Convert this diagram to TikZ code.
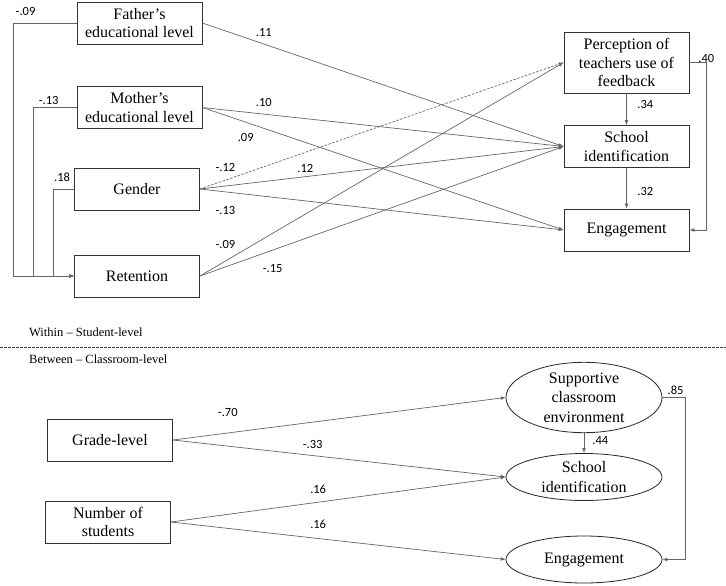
\documentclass[tikz,border=0pt]{standalone}
\usepackage{fontspec}
\setmainfont{Liberation Serif}
\newfontfamily\coeffont{Carlito}
\usepackage{tikz}
\usetikzlibrary{arrows, positioning, shapes.geometric}

\begin{document}
\begin{tikzpicture}[x=1pt,y=-1pt,>=latex,on grid,
		var/.style={draw=black!80,line width=0.8pt,minimum width=125pt,minimum height=42pt,inner sep=2pt,
			align=center,font=\fontsize{16}{18.5}\selectfont},
		latent/.style={draw=black!85,ellipse,line width=0.8pt,minimum width=156pt,inner sep=0pt,
			align=center,font=\fontsize{16}{19.5}\selectfont},
		lbl/.style={font=\coeffont\fontsize{12.5}{14}\selectfont,inner sep=1pt,text=black},
		path/.style={->,draw=black!60,line width=0.7pt},
		every edge/.style={path}]
	\useasboundingbox (0,0) rectangle (726,586);
	% within - student level
	\node[var] (father) at (139.5,23) {Father’s\\educational level};
	\node[var] (mother) [below=84.5pt of father] {Mother’s\\educational level};
	\node[var] (gender) at (137,189) {Gender};
	\node[var] (retention) [below=87pt of gender] {Retention};
	\node[var,minimum height=61pt] (percep) at (626.5,62.5) {Perception of\\teachers use of\\feedback};
	\node[var] (schoolid) [below=84pt of percep] {School\\identification};
	\node[var] (engage) [below=83.5pt of schoolid] {Engagement};
	\path
		(father.east) edge node[lbl,pos=.17,above=6pt] {.11} (schoolid.west)
		(mother.east) edge node[lbl,pos=.17,above=6pt] {.10} (schoolid.west)
			edge node[lbl,pos=.12,below=10pt] {.09} (engage.west)
		(gender.east) edge[dash pattern=on 2.5pt off 1.5pt] node[lbl,pos=.07,above=7pt] {-.12} (percep.west)
			edge node[lbl,pos=.29,above=3pt] {.12} (schoolid.west)
			edge node[lbl,pos=.07,below=13pt] {-.13} (engage.west)
		(retention.east) edge node[lbl,pos=.07,above=11pt] {-.09} (percep.west)
			edge node[lbl,pos=.2,below=13pt] {-.15} (schoolid.west)
		(percep) edge node[lbl,pos=.36,right=9.5pt] {.34} (schoolid)
		(schoolid) edge node[lbl,pos=.57,right=9.5pt] {.32} (engage);
	\draw[path] (father.west) -- node[lbl,pos=.81,above=6pt] {-.09} ++(-63,0) |- (retention.west);
	\draw[path] (mother.west) -- node[lbl,pos=.65,above=2pt] {-.13} ++(-43,0) |- (retention.west);
	\draw[path] (gender.west) -- node[lbl,pos=.57,above=6pt] {.18} ++(-21,0) |- (retention.west);
	\draw[path] (percep.east) -- node[lbl,pos=1,above=-1pt] {.40} ++(17,0) |- (engage.east);
	% level separator
	\node[anchor=west,inner sep=0pt,font=\fontsize{12.5}{14}\selectfont] (within) at (29,332) {Within – Student-level};
	\draw[black!75,line width=0.6pt,dash pattern=on 2.5pt off 1.5pt] (0,347) -- (726,347);
	\node[anchor=west,inner sep=0pt,font=\fontsize{12.5}{14}\selectfont] (between) at (29,359) {Between – Classroom-level};
	% between - classroom level
	\node[var] (grade) at (110,440) {Grade-level};
	\node[var] (number) at (108,522) {Number of\\students};
	\node[latent,minimum height=67pt] (support) at (584,397.5) {Supportive\\classroom\\environment};
	\node[latent,minimum height=47pt] (schoolcl) [below=79.5pt of support] {School\\identification};
	\node[latent,minimum height=47pt] (engagecl) [below=82.5pt of schoolcl] {Engagement};
	\path
		(grade.east) edge node[lbl,pos=.165,above=15pt] {-.70} (support.west)
			edge node[lbl,pos=.42,above=5.5pt] {-.33} (schoolcl.west)
		(number.east) edge node[lbl,pos=.44,above=7pt] {.16} (schoolcl.west)
			edge node[lbl,pos=.44,above=9pt] {.16} (engagecl.west)
		(support) edge node[lbl,pos=.36,right=7pt] {.44} (schoolcl);
	\draw[path] (support.east) -- node[lbl,pos=.57,above=2pt] {.85} ++(23,0) |- (engagecl.east);
\end{tikzpicture}
\end{document}
